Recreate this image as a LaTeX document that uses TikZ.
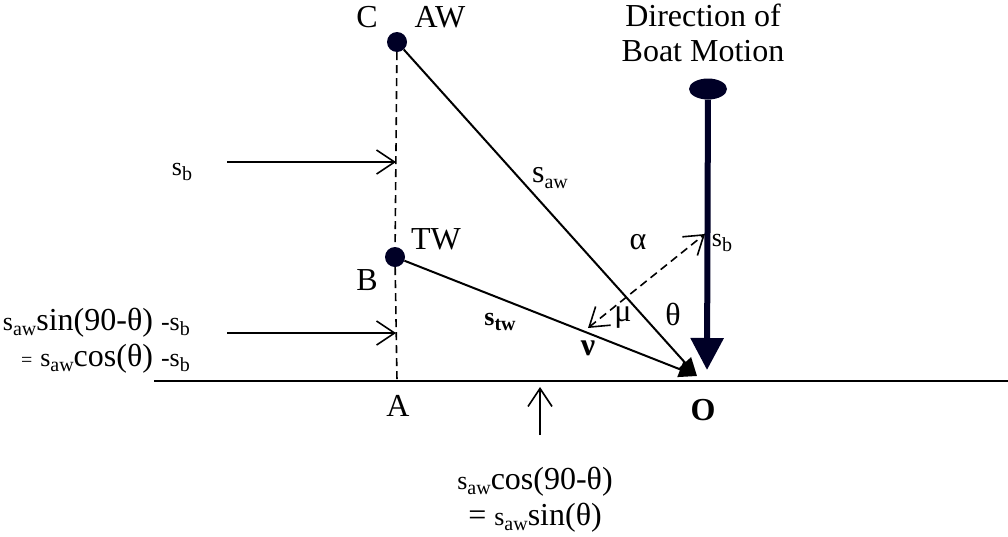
\documentclass[tikz,border=0pt]{standalone}
\usepackage{fontspec}
\setmainfont{Liberation Serif}
\usetikzlibrary{positioning, shapes.geometric, arrows.meta}
\newcommand{\lowidx}[1]{\raisebox{-0.35ex}{\fontsize{20}{20}\selectfont #1}}

\begin{document}
\begin{tikzpicture}[x=1pt, y=-1pt,
    dot/.style={circle, fill=black!85!blue, minimum size=20pt, inner sep=0pt},
    lbl/.style={font=\fontsize{32}{36}\selectfont, inner sep=0pt},
    small/.style={font=\fontsize{26}{30}\selectfont, inner sep=0pt},
    thin/.style={line width=1.6pt},
    barb/.style={thin, -{Straight Barb[length=18pt, width=24pt, line width=1.6pt]}},
    twobarb/.style={thin, {Straight Barb[length=18pt, width=24pt, line width=1.6pt]}-{Straight Barb[length=18pt, width=24pt, line width=1.6pt]}},
    wind/.style={line width=2pt, -{Triangle[length=18pt, width=16pt]}},
    boat/.style={line width=6pt, draw=black!85!blue, -{Triangle[length=32pt, width=32pt]}}
]
    \useasboundingbox (0,0) rectangle (1008,536);

    % Points of the triangle
    \node[dot] (C) at (397,42) {};
    \node[dot] (B) at (395,257) {};
    \coordinate (A) at (397,381);
    \coordinate (O) at (697,376);
    \node[ellipse, fill=black!85!blue, minimum width=38pt, minimum height=21pt, inner sep=0pt] (bow) at (708,89) {};
    \coordinate (stern) at (707,370);

    % Base line and dashed side
    \coordinate (baseL) at (154,381);
    \coordinate (baseR) at (1008,381);
    \draw[line width=1.8pt] (baseL) -- (baseR);
    \draw[thin, dash pattern=on 8pt off 5pt] (C) -- (B) -- (A);

    % Wind vectors and boat motion
    \draw[wind] (C) -- (O);
    \draw[wind] (B) -- (O);
    \draw[boat] (bow) -- (stern);

    % Dashed double arrow
    \coordinate (mu) at (588,328);
    \coordinate (sbtip) at (705,234);
    \draw[twobarb, dash pattern=on 8pt off 5pt] (mu) -- (sbtip);

    % Pointer arrows
    \coordinate (sbL) at (227,162);
    \coordinate (sbR) at (396,162);
    \coordinate (cosL) at (227,333);
    \coordinate (cosR) at (396,333);
    \coordinate (sinB) at (540,435);
    \coordinate (sinT) at (540,387);
    \draw[barb] (sbL) -- (sbR);
    \draw[barb] (cosL) -- (cosR);
    \draw[barb] (sinB) -- (sinT);

    % Point labels
    \node[lbl] (labC) at (367,17) {C};
    \node[lbl] (labAW) at (440,17) {AW};
    \node[lbl] (labTW) at (436,239) {TW};
    \node[lbl] (labB) at (367,280) {B};
    \node[lbl] (labA) at (398,406) {A};
    \node[lbl, font=\fontsize{32}{36}\selectfont\bfseries] (labO) at (703,410) {O};
    \node[lbl, align=center, font=\fontsize{32}{35}\selectfont] (dir) at (703,33) {Direction of\\Boat Motion};

    % Vector and angle labels
    \node[lbl] (saw) at (550,178) {s\lowidx{aw}};
    \node[small, font=\fontsize{26}{30}\selectfont\bfseries] (stw) at (500,322) {s\lowidx{\bfseries tw}};
    \node[lbl] (alpha) at (638,242) {α};
    \node[lbl] (theta) at (673,314) {θ};
    \node[lbl] (mulab) at (623,318) {μ};
    \node[lbl, font=\fontsize{32}{36}\selectfont\bfseries] (nu) at (588,348) {ν};
    \node[small] (sb) at (722,243) {s\lowidx{b}};

    % Side and bottom expressions
    \node[small] (sbleft) at (182,172) {s\lowidx{b}};
    \node[lbl, anchor=east, align=right] (cosexpr) at (190,341)
        {{\fontsize{26}{30}\selectfont s}\lowidx{aw}sin(90-θ) {\fontsize{26}{30}\selectfont -s}\lowidx{b}\\
         {\fontsize{20}{20}\selectfont =} {\fontsize{26}{30}\selectfont s}\lowidx{aw}cos(θ) {\fontsize{26}{30}\selectfont -s}\lowidx{b}};
    \node[lbl, align=center] (sinexpr) at (535,500)
        {{\fontsize{26}{30}\selectfont s}\lowidx{aw}cos(90-θ)\\
         = {\fontsize{26}{30}\selectfont s}\lowidx{aw}sin(θ)};
\end{tikzpicture}
\end{document}
